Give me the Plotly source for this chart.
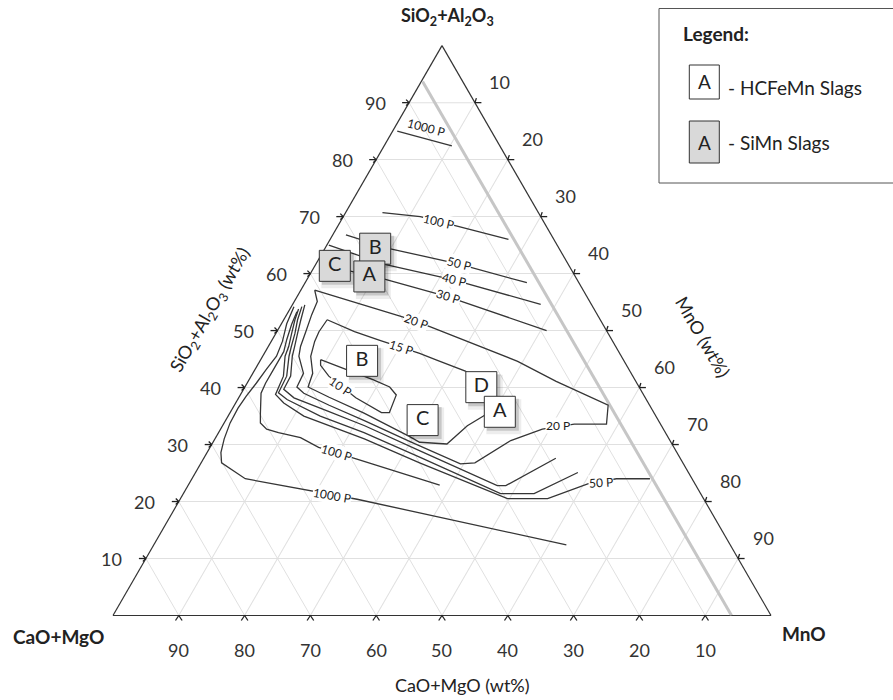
import math
import plotly.graph_objects as go

# ---------------- data (wt%) ----------------
# a = SiO2+Al2O3, c = MnO, b = CaO+MgO = 100 - a - c
TICK_VALUES = [10, 20, 30, 40, 50, 60, 70, 80, 90]

GREY_LINE_SIO2 = [93.7, 0.0]
GREY_LINE_MNO = [0.2, 94.0]

C1000_UPPER_SIO2 = [85.0, 82.4]
C1000_UPPER_MNO = [0.7, 10.3]

C100_UPPER_SIO2 = [70.7, 70.0, 68.4, 66.0]
C100_UPPER_MNO = [5.6, 11.7, 17.8, 27.1]

C50_UPPER_SIO2 = [66.8, 64.4, 61.7, 58.4]
C50_UPPER_MNO = [2.0, 9.8, 21.6, 33.7]

C40_UPPER_SIO2 = [65.0, 61.6, 58.9, 54.6]
C40_UPPER_MNO = [0.3, 10.5, 22.3, 37.7]

C30_UPPER_SIO2 = [61.3, 59.0, 55.9, 50.0]
C30_UPPER_MNO = [2.2, 11.9, 23.0, 40.9]

C20_LOOP_SIO2 = [57.1, 52.4, 50.7, 44.6, 41.1, 36.9, 33.6, 33.6, 32.7, 30.7, 26.8, 26.6,
                 30.5, 34.2, 36.9, 39.0, 40.1, 42.5, 45.5, 47.2, 49.8, 52.8, 55.1, 57.1]
C20_LOOP_MNO = [2.1, 17.8, 22.8, 39.2, 46.8, 56.8, 58.2, 53.3, 48.9, 45.1, 41.6, 39.5,
                29.9, 21.1, 14.4, 9.5, 7.9, 7.7, 5.5, 4.9, 4.4, 3.8, 3.5, 2.1]

C15_LOOP_SIO2 = [51.9, 49.8, 48.3, 46.0, 44.8, 42.9, 39.7, 35.9, 35.0, 33.3, 30.1, 30.4,
                 31.4, 35.5, 38.3, 40.1, 42.5, 45.5, 48.1, 49.8, 51.9]
C15_LOOP_MNO = [6.6, 11.8, 16.4, 23.6, 26.8, 32.1, 37.2, 39.4, 38.8, 37.2, 35.7, 31.4,
                29.4, 20.4, 13.7, 9.6, 9.1, 7.3, 6.6, 6.4, 6.6]

C10_LOOP_SIO2 = [44.9, 43.2, 41.4, 40.1, 38.7, 35.6, 35.6, 38.2, 42.0, 43.9, 44.9]
C10_LOOP_MNO = [9.1, 13.8, 18.8, 22.0, 23.7, 24.2, 23.0, 17.8, 11.8, 9.6, 9.1]

C50_LOWER_SIO2 = [53.8, 51.9, 49.5, 47.2, 45.5, 42.0, 38.8, 37.3, 35.0, 31.0, 26.8, 20.5,
                  20.5, 23.1, 24.0, 24.0]
C50_LOWER_MNO = [1.3, 1.7, 2.4, 3.1, 3.4, 4.9, 5.3, 7.3, 11.5, 22.7, 33.2, 49.7,
                 55.8, 60.6, 64.5, 69.6]

C40_LOWER_SIO2 = [54.2, 51.9, 49.5, 47.2, 45.5, 42.0, 39.1, 37.9, 35.0, 32.1, 27.8, 21.4, 21.4, 25.1]
C40_LOWER_MNO = [1.6, 2.1, 2.9, 3.5, 4.0, 5.4, 5.6, 7.5, 14.0, 22.1, 32.7, 48.2, 53.3, 58.1]

C30_LOWER_SIO2 = [54.5, 51.9, 49.5, 47.2, 45.5, 42.0, 39.7, 38.2, 35.9, 33.3, 28.9, 22.8, 22.8, 27.6]
C30_LOWER_MNO = [1.9, 2.6, 3.3, 4.0, 4.5, 6.0, 6.1, 8.4, 14.6, 21.6, 32.2, 47.0, 48.3, 53.5]

C100_LOWER_SIO2 = [53.3, 51.1, 48.4, 46.3, 45.0, 43.2, 40.8, 39.0, 35.4, 33.8, 32.7, 32.1,
                   31.2, 29.5, 27.5, 22.9]
C100_LOWER_MNO = [1.3, 1.6, 2.2, 2.8, 2.8, 2.8, 2.8, 3.0, 4.7, 5.5, 7.0, 9.1,
                  12.9, 16.5, 23.2, 38.2]

C1000_LOWER_SIO2 = [54.2, 51.2, 48.1, 45.5, 43.2, 40.8, 38.5, 36.4, 33.8, 31.0, 28.6, 26.8,
                    24.0, 20.4, 12.4]
C1000_LOWER_MNO = [0.4, 0.8, 1.7, 2.1, 1.7, 1.4, 1.0, 0.8, 0.9, 1.4, 2.1, 3.1,
                   8.1, 26.9, 62.7]

LABEL_TEXT = ["1000 P", "100 P", "50 P", "40 P", "30 P", "20 P", "15 P", "10 P",
              "20 P", "50 P", "100 P", "1000 P"]
LABEL_SIO2 = [85.6, 69.1, 61.85, 58.9, 55.9, 51.6, 47.0, 40.1, 33.3, 23.4, 28.6, 21.1]
LABEL_MNO = [4.8, 14.85, 21.6, 22.3, 23.0, 20.3, 20.3, 14.5, 51.0, 62.5, 19.6, 22.7]

SIMN_NAMES = ["B", "C", "A"]
SIMN_SIO2 = [64.37, 61.36, 59.50]
SIMN_MNO = [7.66, 3.03, 9.21]

HCFEMN_NAMES = ["B", "C", "D", "A"]
HCFEMN_SIO2 = [44.69, 34.29, 40.07, 35.75]
HCFEMN_MNO = [15.51, 29.91, 35.94, 40.91]

# ---------------- geometry / style ----------------
FIG_W, FIG_H = 893, 700
TRI_W = 658.0
TRI_H = TRI_W * math.sqrt(3) / 2
TRI_LEFT = 113.0
TRI_BOTTOM = 615.5
DOM_X = [TRI_LEFT / FIG_W, (TRI_LEFT + TRI_W) / FIG_W]
DOM_Y = [1 - TRI_BOTTOM / FIG_H, 1 - (TRI_BOTTOM - TRI_H) / FIG_H]

FONT = "Lato"
LINE_COLOR = "#363636"


def px(x, y):
    return x / FIG_W, 1 - y / FIG_H


def tern_to_paper(a, c):
    x = DOM_X[0] + (a / 200.0 + c / 100.0) * (DOM_X[1] - DOM_X[0])
    y = DOM_Y[0] + a / 100.0 * (DOM_Y[1] - DOM_Y[0])
    return x, y


def shift(a_list, c_list, dx, dy):
    da = -dy / TRI_H * 100
    dc = dx / TRI_W * 100 - da / 2
    return [v + da for v in a_list], [v + dc for v in c_list]


fig = go.Figure()

fig.add_trace(go.Scatterternary(
    a=GREY_LINE_SIO2, c=GREY_LINE_MNO, mode="lines",
    line=dict(color="#c6c6c6", width=3), hoverinfo="skip", cliponaxis=False))

contours = [
    (C1000_UPPER_SIO2, C1000_UPPER_MNO), (C100_UPPER_SIO2, C100_UPPER_MNO),
    (C50_UPPER_SIO2, C50_UPPER_MNO), (C40_UPPER_SIO2, C40_UPPER_MNO),
    (C30_UPPER_SIO2, C30_UPPER_MNO), (C20_LOOP_SIO2, C20_LOOP_MNO),
    (C15_LOOP_SIO2, C15_LOOP_MNO), (C10_LOOP_SIO2, C10_LOOP_MNO),
    (C50_LOWER_SIO2, C50_LOWER_MNO), (C40_LOWER_SIO2, C40_LOWER_MNO),
    (C30_LOWER_SIO2, C30_LOWER_MNO), (C100_LOWER_SIO2, C100_LOWER_MNO),
    (C1000_LOWER_SIO2, C1000_LOWER_MNO),
]
for a_vals, c_vals in contours:
    fig.add_trace(go.Scatterternary(
        a=a_vals, c=c_vals, mode="lines",
        line=dict(color=LINE_COLOR, width=1.3), hoverinfo="skip", cliponaxis=False))


def add_box(a, c, name, fill):
    for (dx, dy, extra, col) in [(4, 5, 4, "rgba(0,0,0,0.07)"), (3, 3, 1, "rgba(0,0,0,0.16)")]:
        sa, sc = shift([a], [c], dx, dy)
        fig.add_trace(go.Scatterternary(
            a=sa, c=sc, mode="markers",
            marker=dict(symbol="square", size=31 + extra, color=col, line=dict(width=0)),
            hoverinfo="skip", cliponaxis=False))
    fig.add_trace(go.Scatterternary(
        a=[a], c=[c], mode="markers+text", text=[name], textposition="middle center",
        textfont=dict(family=FONT, size=20, color="#222"),
        marker=dict(symbol="square", size=31, color=fill, line=dict(color="#333", width=1)),
        hoverinfo="skip", cliponaxis=False))


for a, c, n in zip(SIMN_SIO2, SIMN_MNO, SIMN_NAMES):
    add_box(a, c, n, "#d9d9d9")
for a, c, n in zip(HCFEMN_SIO2, HCFEMN_MNO, HCFEMN_NAMES):
    add_box(a, c, n, "#ffffff")

annotations = []
shapes = []

label_angles = [15, 13, 14, 14, 17, 20, 18, 35, 0, -3, 17, 10]
for i, (t, a, c) in enumerate(zip(LABEL_TEXT, LABEL_SIO2, LABEL_MNO)):
    x, y = tern_to_paper(a, c)
    annotations.append(dict(
        x=x, y=y, xref="paper", yref="paper", text=t, showarrow=False,
        textangle=label_angles[i], font=dict(family=FONT, size=12, color="#222"),
        bgcolor="rgba(255,255,255,0)" if i == 0 else "white", borderpad=0,
        xanchor="center", yanchor="middle"))

# tick marks (small arrowheads at the edges) and tick labels, at the axis tick positions
tick_specs = [
    (lambda v: (v, 0), [(-7, 0), (-3, -3), (-3, 3)], (-34, 0)),        # left: SiO2+Al2O3
    (lambda v: (0, 100 - v), [(-3.3, 5), (3.3, 5)], (0, 34)),          # bottom: CaO+MgO
    (lambda v: (100 - v, v), [(6.5, 0), (1.5, -4.5)], (25, -21)),      # right: MnO
]
for pos, strokes, (ldx, ldy) in tick_specs:
    for v in TICK_VALUES:
        a0, c0 = pos(v)
        x0, y0 = tern_to_paper(a0, c0)
        for dx, dy in strokes:
            shapes.append(dict(type="line", xref="paper", yref="paper",
                               x0=x0, y0=y0, x1=x0 + dx / FIG_W, y1=y0 - dy / FIG_H,
                               line=dict(color="#222", width=1.3), layer="above"))
        annotations.append(dict(
            x=x0 + ldx / FIG_W, y=y0 - ldy / FIG_H, xref="paper", yref="paper",
            text=str(v), showarrow=False, font=dict(family=FONT, size=18, color="#333"),
            xanchor="center", yanchor="middle"))


def text_ann(x, y, t, size, bold=False, angle=0, anchor="center"):
    xp, yp = px(x, y)
    annotations.append(dict(
        x=xp, y=yp, xref="paper", yref="paper", showarrow=False,
        text=("<b>%s</b>" % t) if bold else t, textangle=angle,
        font=dict(family=FONT, size=size, color="#222"),
        xanchor=anchor, yanchor="middle"))


text_ann(447, 17, "SiO<sub>2</sub>+Al<sub>2</sub>O<sub>3</sub>", 18, bold=True)
text_ann(58.5, 636, "CaO+MgO", 19, bold=True)
text_ann(804, 633, "MnO", 19, bold=True)
text_ann(462, 685, "CaO+MgO (wt%)", 18)
text_ann(210, 310, "SiO<sub>2</sub>+Al<sub>2</sub>O<sub>3</sub> (wt%)", 18, angle=-60)
text_ann(703, 337, "MnO (wt%)", 18, angle=60)

# legend
lx0, ly0 = px(659, 183)
lx1, ly1 = px(900, 8.5)
shapes.append(dict(type="rect", xref="paper", yref="paper", x0=lx0, y0=ly0, x1=lx1, y1=ly1,
                   line=dict(color="#555", width=1), fillcolor="white", layer="below"))
for (y0p, y1p, fill) in [(65, 99, "white"), (121, 163, "#d9d9d9")]:
    bx0, by0 = px(689.3, y1p)
    bx1, by1 = px(719.3, y0p)
    shapes.append(dict(type="rect", xref="paper", yref="paper", x0=bx0, y0=by0, x1=bx1, y1=by1,
                       line=dict(color="#333", width=1), fillcolor=fill, layer="above"))
text_ann(681, 33, "Legend:", 19, bold=True, anchor="left")
text_ann(704.3, 82, "A", 19)
text_ann(704.3, 142, "A", 19)
text_ann(726, 88, "- HCFeMn Slags", 19, anchor="left")
text_ann(726, 142, "- SiMn Slags", 19, anchor="left")

axis_common = dict(
    tickmode="array", tickvals=TICK_VALUES, ticks="", showticklabels=False,
    showgrid=True, gridcolor="#e0e0e0", gridwidth=1, showline=True,
    linecolor="#333", linewidth=1.2, layer="below traces", min=0,
    title=dict(text=""))

fig.update_layout(
    width=FIG_W, height=FIG_H, margin=dict(l=0, r=0, t=0, b=0),
    paper_bgcolor="white", showlegend=False,
    ternary=dict(sum=100, bgcolor="white", domain=dict(x=DOM_X, y=DOM_Y),
                 aaxis=axis_common, baxis=axis_common, caxis=axis_common),
    annotations=annotations, shapes=shapes)

fig.write_html("out.html")
